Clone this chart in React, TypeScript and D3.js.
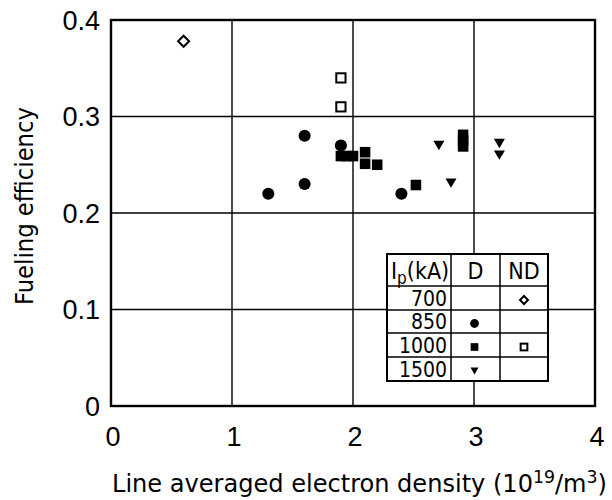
import React from "react";
import * as d3 from "d3";

const xTicks = [0, 1, 2, 3, 4];
const yTicks = [0, 0.1, 0.2, 0.3, 0.4];
const yTickLabels = ["0", "0.1", "0.2", "0.3", "0.4"];

// D (filled) series
const d850 = [
  [1.3, 0.22],
  [1.6, 0.28],
  [1.6, 0.23],
  [1.9, 0.27],
  [2.4, 0.22],
];
const d1000 = [
  [1.9, 0.259],
  [1.95, 0.259],
  [2.0, 0.259],
  [2.1, 0.263],
  [2.1, 0.251],
  [2.2, 0.25],
  [2.52, 0.229],
  [2.91, 0.281],
  [2.91, 0.275],
  [2.91, 0.269],
];
const d1500 = [
  [2.71, 0.27],
  [2.81, 0.231],
  [3.21, 0.272],
  [3.21, 0.26],
];
// ND (open) series
const nd700 = [[0.6, 0.378]];
const nd1000 = [
  [1.9, 0.34],
  [1.9, 0.31],
];

const legendRows = ["700", "850", "1000", "1500"];

const FONT = "'DejaVu Sans Condensed', 'Liberation Sans Narrow', 'Liberation Sans', sans-serif";
const TICKFONT = "'Liberation Sans', Arial, sans-serif";

function Marker({ kind, x, y, s }: { kind: string; x: number; y: number; s: number }) {
  if (kind === "circle") return <circle cx={x} cy={y} r={s * 0.55} fill="#000" />;
  if (kind === "square")
    return <rect x={x - s * 0.48} y={y - s * 0.48} width={s * 0.96} height={s * 0.96} fill="#000" />;
  if (kind === "tri") {
    const h = s * 0.85;
    return (
      <path
        d={`M${x - s * 0.5},${y - h / 2}L${x + s * 0.5},${y - h / 2}L${x},${y + h / 2}Z`}
        fill="#000"
      />
    );
  }
  if (kind === "osquare")
    return (
      <rect
        x={x - s * 0.42}
        y={y - s * 0.42}
        width={s * 0.84}
        height={s * 0.84}
        fill="none"
        stroke="#000"
        strokeWidth={2}
      />
    );
  if (kind === "diamond") {
    const r = s * 0.5;
    return (
      <path
        d={`M${x},${y - r}L${x + r},${y}L${x},${y + r}L${x - r},${y}Z`}
        fill="none"
        stroke="#000"
        strokeWidth={2}
      />
    );
  }
  return null;
}

export default function App() {
  const x = d3.scaleLinear().domain([0, 4]).range([111, 595]);
  const y = d3.scaleLinear().domain([0, 0.4]).range([406, 20]);

  const series: [number[][], string][] = [
    [d850, "circle"],
    [d1000, "square"],
    [d1500, "tri"],
    [nd700, "diamond"],
    [nd1000, "osquare"],
  ];

  // legend table geometry
  const tL = 387,
    tR = 548,
    tT = 254;
  const colX = [tL, 451, 500, tR];
  const rowY = [tT, 286, 310, 333, 357, 381];
  const legendMarkers: [string | null, string | null][] = [
    [null, "diamond"],
    ["circle", null],
    ["square", "osquare"],
    ["tri", null],
  ];

  return (
    <svg
      width={612}
      height={500}
      style={{ position: "absolute", left: 0, top: 0, background: "#fff" }}
    >
      <rect width={612} height={500} fill="#fff" />
      {/* grid */}
      {xTicks.slice(1, -1).map((t) => (
        <line key={"gx" + t} x1={x(t)} x2={x(t)} y1={y(0.4)} y2={y(0)} stroke="#000" strokeWidth={1.4} />
      ))}
      {yTicks.slice(1, -1).map((t) => (
        <line key={"gy" + t} x1={x(0)} x2={x(4)} y1={y(t)} y2={y(t)} stroke="#000" strokeWidth={1.4} />
      ))}
      {/* frame */}
      <rect
        x={x(0)}
        y={y(0.4)}
        width={x(4) - x(0)}
        height={y(0) - y(0.4)}
        fill="none"
        stroke="#000"
        strokeWidth={2.4}
      />
      {/* data */}
      {series.map(([data, kind]) =>
        data.map((d, i) => <Marker key={kind + i} kind={kind} x={x(d[0])} y={y(d[1])} s={11} />)
      )}
      {/* legend table */}
      <rect x={tL} y={tT} width={tR - tL} height={rowY[5] - tT} fill="#fff" stroke="#000" strokeWidth={2} />
      {colX.slice(1, -1).map((cx) => (
        <line key={"c" + cx} x1={cx} x2={cx} y1={tT} y2={rowY[5]} stroke="#000" strokeWidth={1.5} />
      ))}
      {rowY.slice(1, -1).map((ry) => (
        <line key={"r" + ry} x1={tL} x2={tR} y1={ry} y2={ry} stroke="#000" strokeWidth={1.5} />
      ))}
      <text x={391} y={279} fontFamily={FONT} fontSize={23} fill="#000">
        I<tspan dy={5} fontSize={17}>p</tspan>
        <tspan dy={-5}>(kA)</tspan>
      </text>
      <text x={(colX[1] + colX[2]) / 2} y={279} fontFamily={FONT} fontSize={23} textAnchor="middle">
        D
      </text>
      <text x={(colX[2] + colX[3]) / 2} y={279} fontFamily={FONT} fontSize={23} textAnchor="middle">
        ND
      </text>
      {legendRows.map((r, i) => (
        <text
          key={r}
          x={447}
          y={(rowY[i + 1] + rowY[i + 2]) / 2}
          dy="0.36em"
          fontFamily={FONT}
          fontSize={21}
          textAnchor="end"
        >
          {r}
        </text>
      ))}
      {legendMarkers.map(([dk, nk], i) => {
        const cy = (rowY[i + 1] + rowY[i + 2]) / 2;
        return (
          <g key={"lm" + i}>
            {dk && <Marker kind={dk} x={(colX[1] + colX[2]) / 2 - 1} y={cy + 2} s={8} />}
            {nk && <Marker kind={nk} x={(colX[2] + colX[3]) / 2} y={cy + 2} s={8} />}
          </g>
        );
      })}
      {/* y tick labels */}
      {yTicks.map((t, i) => (
        <text
          key={"yl" + t}
          x={100}
          y={y(t)}
          dy="0.36em"
          textAnchor="end"
          fontFamily={TICKFONT}
          fontSize={27}
        >
          {yTickLabels[i]}
        </text>
      ))}
      {/* x tick labels */}
      {xTicks.map((t) => (
        <text key={"xl" + t} x={x(t) + 2} y={446} textAnchor="middle" fontFamily={TICKFONT} fontSize={27}>
          {t}
        </text>
      ))}
      {/* axis titles */}
      <text
        transform={`translate(33,206) rotate(-90)`}
        textAnchor="middle"
        fontFamily={FONT}
        fontSize={25}
        textLength={198}
        lengthAdjust="spacingAndGlyphs"
      >
        Fueling efficiency
      </text>
      <text
        x={112}
        y={492}
        fontFamily={FONT}
        fontSize={25}
        textLength={495}
        lengthAdjust="spacingAndGlyphs"
      >
        Line averaged electron density (10
        <tspan dy={-9} fontSize={18}>19</tspan>
        <tspan dy={9}>/m</tspan>
        <tspan dy={-9} fontSize={18}>3</tspan>
        <tspan dy={9}>)</tspan>
      </text>
    </svg>
  );
}
